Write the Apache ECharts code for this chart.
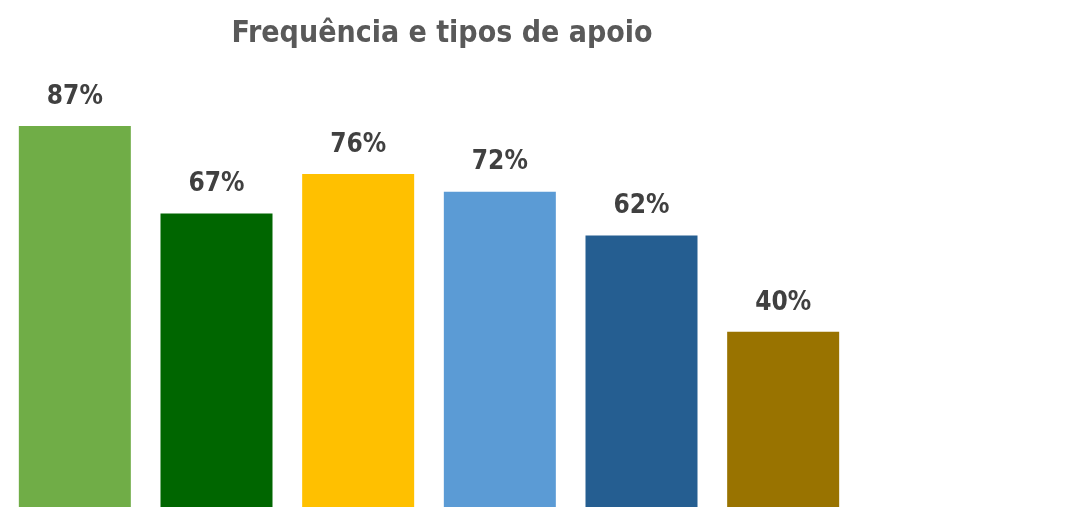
<!DOCTYPE html>
<html>
<head>
<meta charset="utf-8">
<script src="https://cdn.jsdelivr.net/npm/echarts@6/dist/echarts.min.js"></script>
<style>
html, body { margin: 0; padding: 0; background: #ffffff; }
#chart { width: 1066px; height: 507px; }
</style>
</head>
<body>
<div id="chart"></div>
<script>
// categories are not labelled in the picture
var categories = ['Tipo 1', 'Tipo 2', 'Tipo 3', 'Tipo 4', 'Tipo 5', 'Tipo 6']
var values = [87, 67, 76, 72, 62, 40]
var barColors = ['#70AD47', '#006600', '#FFC000', '#5B9BD5', '#255E91', '#997300']
var font = '"DejaVu Sans Condensed", Roboto, sans-serif'

var chart = echarts.init(document.getElementById('chart'))
chart.setOption({
  animation: false,
  title: {
    text: 'Frequência e tipos de apoio',
    left: 437,
    textAlign: 'center',
    top: 14,
    textStyle: {
      fontFamily: font,
      fontWeight: 'bold',
      fontSize: 30,
      color: '#595959'
    }
  },
  grid: { left: 4, width: 850, top: 69, bottom: 0 },
  xAxis: {
    type: 'category',
    data: categories,
    show: false
  },
  yAxis: {
    type: 'value',
    min: 0,
    max: 100,
    show: false
  },
  series: [
    {
      type: 'bar',
      barWidth: 112,
      data: values.map(function (v, i) {
        return { value: v, itemStyle: { color: barColors[i] } }
      }),
      label: {
        show: true,
        position: 'top',
        distance: 16,
        formatter: '{c}%',
        fontFamily: font,
        fontWeight: 'bold',
        fontSize: 26,
        color: '#404040'
      }
    }
  ]
})
</script>
</body>
</html>
